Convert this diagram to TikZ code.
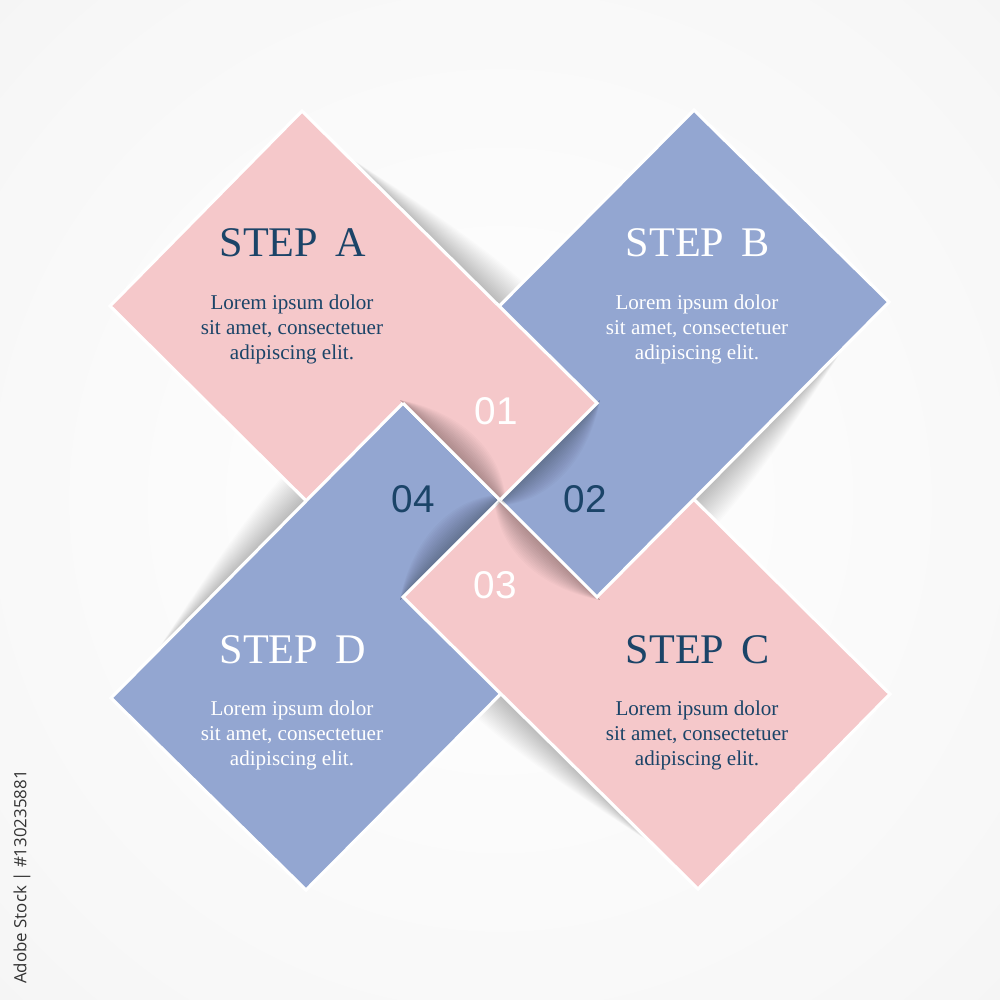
\documentclass[tikz,border=0pt]{standalone}
\usepackage{fontspec}
\setmainfont{Liberation Serif}
\newfontfamily\numfont{Liberation Sans}
\newfontfamily\wmfont{Open Sans}
\usetikzlibrary{calc}
\definecolor{pinkbox}{HTML}{F5C8CA}
\definecolor{bluebox}{HTML}{93A6D1}
\definecolor{navy}{HTML}{1B4468}
\pgfdeclareradialshading{bgshade}{\pgfpoint{0bp}{0bp}}{color(0bp)=(white); color(30bp)=(white!97!black); color(55bp)=(white!93!black); color(72bp)=(white!89!black)}
% outer (background) shadow of card A, in A's frame
\newcommand\outershadowA{%
  \foreach \k in {1,...,22}
    \fill[shad] (346,155) .. controls ($(464,272)+\k*(1.1,-1.1)$) and ($(553,359)+\k*(1.8,-1.8)$) .. (568,374) -- cycle;}
% centre shadow cast by A onto B, in A's frame
\newcommand\centershadowA{%
  \begin{scope}
    \clip (694,110) -- (889,302) -- (597,597) -- (403,403) -- cycle;
    \foreach \k in {1,...,16}
      \fill[cshad] (494,506) .. controls ($(522,478)+\k*(1.7,1.7)$) and ($(565,435)+\k*(1.5,1.5)$) .. (600,400) -- cycle;
  \end{scope}}
\begin{document}
\begin{tikzpicture}[x=0.01cm,y=-0.01cm,
  card/.style={draw=white,line width=0.9pt,line join=miter},
  title/.style={font=\fontsize{12}{14}\selectfont, inner sep=0pt},
  body/.style={font=\fontsize{6}{7.1}\selectfont, align=center, inner sep=0pt},
  num/.style={font=\numfont\fontsize{11}{13}\selectfont, inner sep=0pt},
  shad/.style={fill=black, fill opacity=0.013},
  cshad/.style={fill=black, fill opacity=0.02}]
\useasboundingbox (0,0) rectangle (1000,1000);
% background
\shade[shading=bgshade] (0,0) rectangle (1000,1000);
% outer shadows on the background
\outershadowA
\begin{scope}[rotate around={-90:(500,500)}]\outershadowA\end{scope}
\begin{scope}[rotate around={-180:(500,500)}]\outershadowA\end{scope}
\begin{scope}[rotate around={-270:(500,500)}]\outershadowA\end{scope}
% cards: A, D, C, B, then A again over B
\fill[pinkbox] (302,111) -- (597,403) -- (403,597) -- (110,306) -- cycle;
\draw[card] (302,111) -- (597,403) -- (403,597) -- (110,306) -- cycle;
\fill[bluebox] (403,403) -- (597,597) -- (306,890) -- (111,698) -- cycle;
\draw[card] (403,403) -- (597,597) -- (306,890) -- (111,698) -- cycle;
\begin{scope}[rotate around={-180:(500,500)}]\centershadowA\end{scope}
\fill[pinkbox] (597,403) -- (890,694) -- (698,889) -- (403,597) -- cycle;
\draw[card] (597,403) -- (890,694) -- (698,889) -- (403,597) -- cycle;
\begin{scope}[rotate around={-90:(500,500)}]\centershadowA\end{scope}
\fill[bluebox] (694,110) -- (889,302) -- (597,597) -- (403,403) -- cycle;
\draw[card] (694,110) -- (889,302) -- (597,597) -- (403,403) -- cycle;
\centershadowA
% A lies over B
\begin{scope}
  \clip (691,107) -- (889,302) -- (597,597) -- (400,400) -- cycle;
  \fill[pinkbox] (302,111) -- (597,403) -- (403,597) -- (110,306) -- cycle;
  \begin{scope}[rotate around={-270:(500,500)}]\centershadowA\end{scope}
  \draw[card] (302,111) -- (597,403) -- (403,597) -- (110,306) -- cycle;
\end{scope}
\draw[card] (403,403) -- (500,500);
% texts
\node[title, text=navy] (tA) at (293,243) {STEP\hspace{5pt}A};
\node[body, text=navy] (bA) at (292,329) {Lorem ipsum dolor\\sit amet, consectetuer\\adipiscing elit.};
\node[title, text=white] (tB) at (698,243) {STEP\hspace{5pt}B};
\node[body, text=white] (bB) at (697,329) {Lorem ipsum dolor\\sit amet, consectetuer\\adipiscing elit.};
\node[title, text=navy] (tC) at (698,650) {STEP\hspace{5pt}C};
\node[body, text=navy] (bC) at (697,735) {Lorem ipsum dolor\\sit amet, consectetuer\\adipiscing elit.};
\node[title, text=white] (tD) at (293,650) {STEP\hspace{5pt}D};
\node[body, text=white] (bD) at (292,735) {Lorem ipsum dolor\\sit amet, consectetuer\\adipiscing elit.};
\node[num, text=white] (n1) at (496,411) {01};
\node[num, text=navy] (n2) at (585,499) {02};
\node[num, text=white] (n3) at (495,585) {03};
\node[num, text=navy] (n4) at (413,499) {04};
\node[rotate=90, font=\wmfont\fontsize{4.8}{6}\selectfont, text=black!80, inner sep=0pt] (wm) at (22,877) {Adobe Stock | \#130235881};
\end{tikzpicture}
\end{document}
